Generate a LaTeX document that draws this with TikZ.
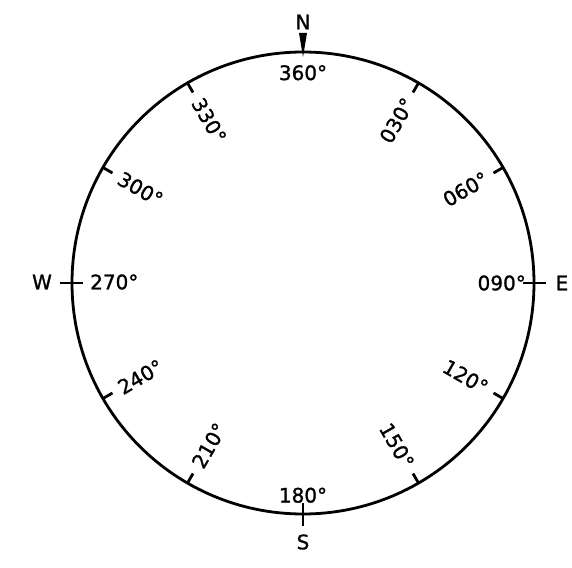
\documentclass[tikz,border=0pt]{standalone}
\usepackage{fontspec}
\setmainfont{DejaVu Sans}
\newfontfamily\compassfont[FakeBold=1.2]{DejaVu Sans}
\begin{document}
\begin{tikzpicture}[x=1pt,y=1pt]
    \definecolor{lineColour}{HTML}{000000}

    \def\radius{231}
    \def\tickLength{11}
    \def\labelGap{19}

    \useasboundingbox (-303,-284) rectangle (269,283);
    \tikzset{
        rim/.style={draw=lineColour, line width=2.8pt},
        bearing/.style={font=\compassfont\fontsize{20}{24}\selectfont, inner sep=0pt},
        cardinal/.style={font=\compassfont\fontsize{20}{24}\selectfont, inner sep=0pt}
    }

    % Draw circle
    \coordinate (centre) at (0,0);
    \draw[rim] (centre) circle (\radius);

    % Draw minor ticks and labels on the east side
    \foreach \b/\lbl in {30/030,60/060,120/120,150/150} {
        \coordinate (outer\lbl) at (90-\b:\radius);
        \coordinate (inner\lbl) at (90-\b:\radius-\tickLength);
        \draw[rim] (outer\lbl) -- (inner\lbl);
        \node[bearing, anchor=east, rotate=90-\b] (label\lbl) at (90-\b:\radius-\labelGap) {\lbl°};
    }

    % Draw minor ticks and labels on the west side
    \foreach \b/\lbl in {210/210,240/240,300/300,330/330} {
        \coordinate (outer\lbl) at (90-\b:\radius);
        \coordinate (inner\lbl) at (90-\b:\radius-\tickLength);
        \draw[rim] (outer\lbl) -- (inner\lbl);
        \node[bearing, anchor=west, rotate=270-\b] (label\lbl) at (90-\b:\radius-\labelGap) {\lbl°};
    }

    % Draw north pointer
    \coordinate (northTop) at (0,\radius+19);
    \coordinate (northTip) at (0,\radius-5);
    \fill[lineColour] ([xshift=-4pt]northTop) -- ([xshift=4pt]northTop) -- (northTip) -- cycle;

    % Draw east, south and west marks
    \foreach \a/\d in {0/east,-90/south,180/west} {
        \coordinate (out\d) at (\a:\radius+12);
        \coordinate (in\d) at (\a:\radius-11);
        \draw[rim] (out\d) -- (in\d);
    }

    % Label cardinal bearings
    \node[bearing, anchor=north] (label360) at (0,\radius-13) {360°};
    \node[bearing, anchor=east] (label090) at (\radius-8,0) {090°};
    \node[bearing, anchor=south] (label180) at (0,-\radius+11) {180°};
    \node[bearing, anchor=west] (label270) at (-\radius+18,1) {270°};

    % Label compass points
    \node[cardinal] (N) at (0,\radius+30) {N};
    \node[cardinal] (E) at (\radius+28,0) {E};
    \node[cardinal] (S) at (0,-\radius-28) {S};
    \node[cardinal] (W) at (-\radius-30,1) {W};

\end{tikzpicture}
\end{document}
